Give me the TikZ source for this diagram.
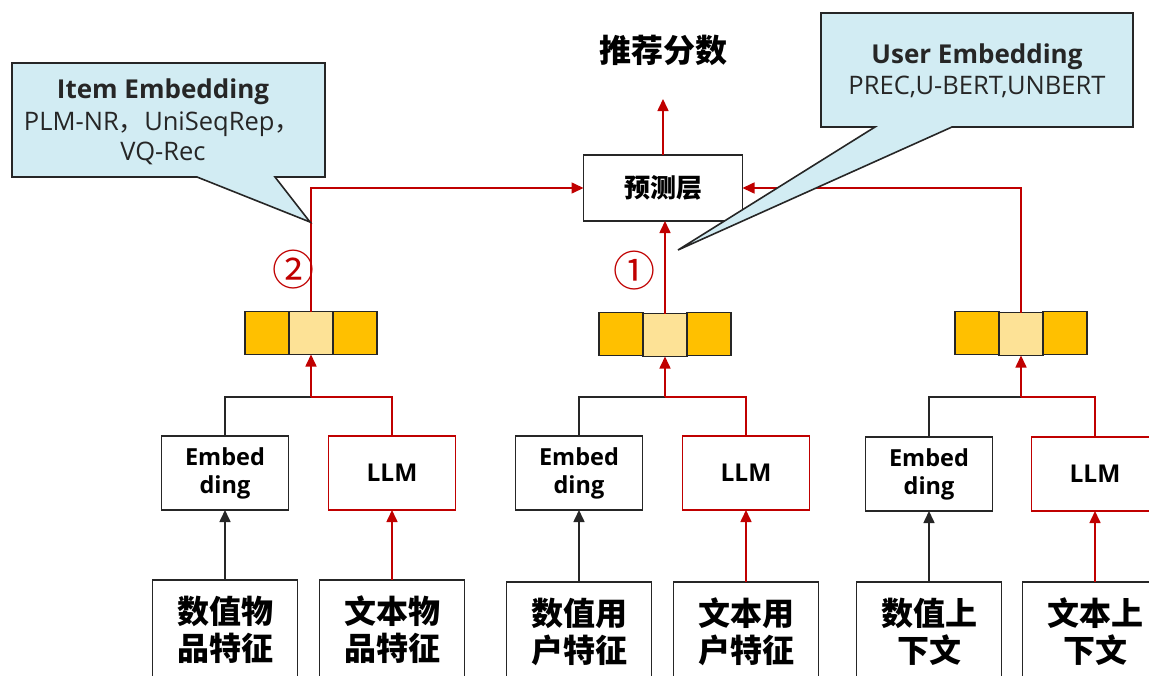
\documentclass[tikz,border=0pt]{standalone}
\usepackage{fontspec}
\setmainfont{Open Sans}
\newfontfamily\cjk{Noto Sans CJK SC}
\usetikzlibrary{arrows.meta}
\definecolor{lred}{RGB}{192,0,0}
\definecolor{ldark}{RGB}{38,38,38}
\definecolor{cfill}{RGB}{210,236,243}
\definecolor{vyel}{RGB}{255,192,0}
\definecolor{vlight}{RGB}{253,226,150}
\begin{document}
\begin{tikzpicture}[x=1pt,y=-1pt,
  box/.style={draw=ldark,line width=1.6pt,fill=white,inner sep=0pt,outer sep=0pt},
  featbox/.style={box,minimum width=145pt,minimum height=100pt,align=center,
     font=\cjk\bfseries\fontsize{32}{37}\selectfont},
  embbox/.style={box,minimum width=127pt,minimum height=74pt,align=center,
     font=\bfseries\fontsize{23.5}{28}\selectfont},
  llmbox/.style={embbox,draw=lred,font=\bfseries\fontsize{24.5}{28}\selectfont},
  cellA/.style={draw=ldark,line width=1.6pt,fill=vyel,minimum width=44pt,minimum height=43pt,inner sep=0pt,outer sep=0pt},
  cellB/.style={cellA,fill=vlight},
  blk/.style={draw=ldark,line width=1.6pt},
  rd/.style={draw=lred,line width=1.6pt},
  tip/.style={-{Triangle[length=12pt,width=11pt]}},
  callout/.style={draw=ldark,line width=1.6pt,fill=cfill,line join=miter},
  ctitle/.style={font=\bfseries\fontsize{26}{30}\selectfont,text=ldark,inner sep=0pt},
  ctext/.style={font=\fontsize{25.5}{29}\selectfont,text=ldark,inner sep=0pt},
  num/.style={font=\cjk\fontsize{42}{42}\selectfont,text=lred,inner sep=0pt}
]
\useasboundingbox (0,0) rectangle (1149,675);
\clip (0,0) rectangle (1149,675);

% bottom feature boxes
\node[featbox] (f1) at (225,630) {数值物\\品特征};
\node[featbox] (f2) at (392,630) {文本物\\品特征};
\node[featbox] (f3) at (579,632) {数值用\\户特征};
\node[featbox] (f4) at (746,632) {文本用\\户特征};
\node[featbox] (f5) at (929,632) {数值上\\下文};
\node[featbox] (f6) at (1095,632) {文本上\\下文};

% embedding / LLM boxes
\node[embbox] (e1) at (225,473) {Embed\\ding};
\node[llmbox] (l1) at (392,473) {LLM};
\node[embbox] (e2) at (579,473) {Embed\\ding};
\node[llmbox] (l2) at (746,473) {LLM};
\node[embbox] (e3) at (929,474) {Embed\\ding};
\node[llmbox] (l3) at (1095,474) {LLM};

% vectors
\node[cellA] (v1a) at (267,333) {};
\node[cellA] (v1c) at (355,333) {};
\node[cellB] (v1) at (311,333) {};
\node[cellA] (v2a) at (621,334) {};
\node[cellA] (v2c) at (709,334) {};
\node[cellB] (v2) at (665,335) {};
\node[cellA] (v3a) at (977,333) {};
\node[cellA] (v3c) at (1065,333) {};
\node[cellB] (v3) at (1021,334) {};

% prediction layer and score
\node[box,minimum width=159pt,minimum height=66pt,font=\cjk\bfseries\fontsize{26}{26}\selectfont] (pred) at (663,188) {预测层};
\node[font=\cjk\bfseries\fontsize{32}{32}\selectfont,inner sep=0pt] (score) at (663,50) {推荐分数};
\coordinate (sc) at (663,99);

% junctions
\coordinate (j1) at (311,397);
\coordinate (j2) at (665,397);
\coordinate (j3) at (1021,397);

% bottom arrows
\draw[blk,tip] (f1.north) -- (e1.south);
\draw[rd,tip] (f2.north) -- (l1.south);
\draw[blk,tip] (f3.north) -- (e2.south);
\draw[rd,tip] (f4.north) -- (l2.south);
\draw[blk,tip] (f5.north) -- (e3.south);
\draw[rd,tip] (f6.north) -- (l3.south);

% merge lines
\draw[blk] (e1.north) |- (j1);
\draw[rd] (l1.north) |- (j1);
\draw[rd,tip] (j1) -- (v1.south);
\draw[blk] (e2.north) |- (j2);
\draw[rd] (l2.north) |- (j2);
\draw[rd,tip] (j2) -- (v2.south);
\draw[blk] (e3.north) |- (j3);
\draw[rd] (l3.north) |- (j3);
\draw[rd,tip] (j3) -- (v3.south);

% to prediction
\draw[rd,tip] (v1.north) |- (pred.west);
\draw[rd,tip] (v2.north) -- (v2.north |- pred.south);
\draw[rd,tip] (v3.north) |- (pred.east);
\draw[rd,tip] (pred.north) -- (sc);

% circled numbers
\node[num] (n2) at (293,270) {②};
\node[num] (n1) at (634,271) {①};

% callouts
\draw[callout] (12,63) -- (325,63) -- (325,177) -- (275,177) -- (310,222) -- (197,177) -- (12,177) -- cycle;
\node[ctitle] (it1) at (163,92) {Item Embedding};
\node[ctext] (it2) at (162,124) {PLM-NR{\cjk ，}UniSeqRep{\cjk ，}};
\node[ctext] (it3) at (163,153) {VQ-Rec};

\draw[callout] (821,13) -- (1133,13) -- (1133,127) -- (952,127) -- (678,250) -- (875,127) -- (821,127) -- cycle;
\node[ctitle] (ut1) at (977,57) {User Embedding};
\node[ctext] (ut2) at (977,87) {PREC,U-BERT,UNBERT};
\end{tikzpicture}
\end{document}
